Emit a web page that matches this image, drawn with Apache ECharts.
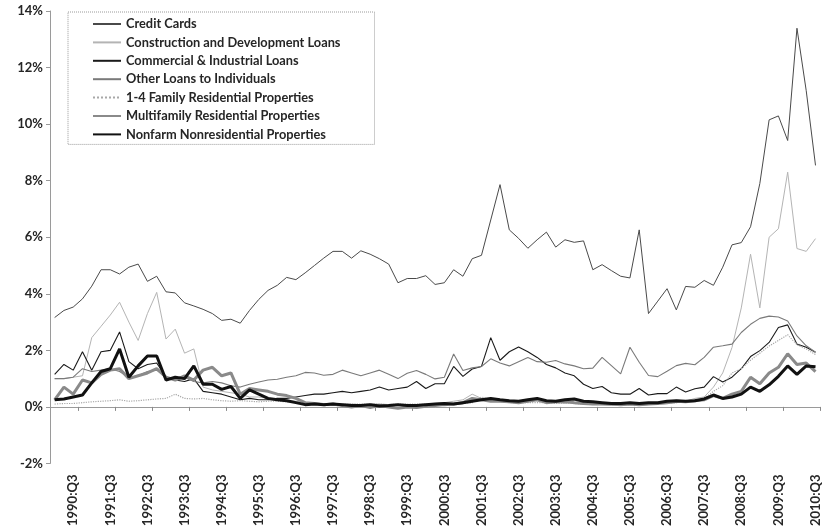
<!DOCTYPE html>
<html>
<head>
<meta charset="utf-8">
<script src="https://cdn.jsdelivr.net/npm/echarts@6/dist/echarts.min.js"></script>
<style>
  html, body { margin: 0; padding: 0; background: #fff; }
  #chart { width: 822px; height: 529px; }
</style>
</head>
<body>
<div id="chart"></div>
<script>
// Quarterly categories, 1990:Q1 through 2010:Q3
const quarters = [];
for (let y = 1990; y <= 2010; y++) {
  for (let q = 1; q <= 4; q++) {
    if (y === 2010 && q > 3) break;
    quarters.push(y + ':Q' + q);
  }
}

const seriesNames = [
  'Credit Cards',
  'Construction and Development Loans',
  'Commercial & Industrial Loans',
  'Other Loans to Individuals',
  '1-4 Family Residential Properties',
  'Multifamily Residential Properties',
  'Nonfarm Nonresidential Properties'
];

// Net charge-off rates, percent
const creditCards = [
  3.16, 3.41, 3.53, 3.82,  4.27, 4.85, 4.85, 4.70,  4.94, 5.05, 4.44, 4.62,
  4.07, 4.03, 3.68, 3.57,  3.45, 3.30, 3.06, 3.10,  2.96, 3.41, 3.80, 4.12,
  4.30, 4.58, 4.50, 4.74,  5.00, 5.26, 5.50, 5.50,  5.26, 5.52, 5.40, 5.24,
  5.05, 4.39, 4.54, 4.54,  4.64, 4.33, 4.39, 4.85,  4.62, 5.24, 5.36, 6.61,
  7.86, 6.26, 5.96, 5.61,  5.91, 6.18, 5.65, 5.91,  5.82, 5.87, 4.85, 5.03,
  4.82, 4.62, 4.56, 6.26,  3.30, 3.74, 4.18, 3.43,  4.26, 4.23, 4.47, 4.30,
  4.94, 5.73, 5.81, 6.37,  7.90, 10.15, 10.29, 9.42,  13.39, 11.18, 8.54
];
const construction = [
  1.00, 1.00, 1.05, 1.10,  2.45, 2.85, 3.25, 3.70,  3.00, 2.35, 3.30, 4.05,
  2.40, 2.75, 1.90, 2.05,  0.70, 0.60, 0.55, 0.50,  0.45, 0.35, 0.35, 0.30,
  0.30, 0.25, 0.20, 0.15,  0.15, 0.12, 0.12, 0.10,  0.10, 0.08, 0.10, 0.10,
  0.08, 0.05, 0.05, 0.08,  0.10, 0.12, 0.15, 0.20,  0.25, 0.45, 0.30, 0.25,
  0.25, 0.20, 0.20, 0.25,  0.22, 0.15, 0.15, 0.12,  0.15, 0.10, 0.08, 0.08,
  0.05, 0.05, 0.08, 0.05,  0.08, 0.10, 0.12, 0.15,  0.20, 0.30, 0.35, 0.70,
  1.20, 2.10, 3.50, 5.40,  3.50, 6.00, 6.30, 8.30,  5.60, 5.50, 5.95
];
const commercialIndustrial = [
  1.15, 1.50, 1.30, 1.95,  1.30, 1.95, 2.00, 2.65,  1.60, 1.35, 1.50, 1.55,
  1.05, 0.95, 0.90, 1.00,  0.55, 0.50, 0.45, 0.35,  0.25, 0.30, 0.25, 0.25,
  0.30, 0.30, 0.35, 0.40,  0.45, 0.45, 0.50, 0.55,  0.50, 0.55, 0.60, 0.70,
  0.60, 0.65, 0.70, 0.90,  0.65, 0.82, 0.82, 1.43,  1.08, 1.34, 1.43, 2.45,
  1.65, 1.95, 2.12, 1.95,  1.75, 1.50, 1.38, 1.20,  1.10, 0.80, 0.65, 0.72,
  0.50, 0.45, 0.45, 0.65,  0.42, 0.47, 0.47, 0.70,  0.53, 0.64, 0.70, 1.07,
  0.88, 1.05, 1.35, 1.78,  1.99, 2.28, 2.81, 2.90,  2.22, 2.11, 1.93
];
const otherIndividuals = [
  1.00, 1.00, 1.05, 1.35,  1.25, 1.30, 1.35, 1.25,  1.05, 1.10, 1.25, 1.30,
  1.05, 1.00, 1.05, 0.90,  0.85, 0.90, 0.85, 0.75,  0.70, 0.80, 0.88, 0.95,
  0.98, 1.05, 1.10, 1.22,  1.20, 1.12, 1.15, 1.30,  1.20, 1.10, 1.20, 1.30,
  1.15, 1.00, 1.19, 1.29,  1.15, 0.99, 1.05, 1.87,  1.29, 1.38, 1.43, 1.70,
  1.55, 1.45, 1.60, 1.75,  1.60, 1.58, 1.64, 1.52,  1.45, 1.35, 1.37, 1.75,
  1.46, 1.17, 2.11, 1.58,  1.11, 1.07, 1.26, 1.46,  1.54, 1.49, 1.75, 2.11,
  2.16, 2.22, 2.63, 2.92,  3.13, 3.21, 3.18, 3.04,  2.51, 2.16, 1.93
];
const oneToFourFamily = [
  0.10, 0.12, 0.12, 0.15,  0.18, 0.20, 0.22, 0.25,  0.20, 0.22, 0.25, 0.28,
  0.30, 0.45, 0.30, 0.28,  0.30, 0.25, 0.22, 0.20,  0.22, 0.20, 0.18, 0.20,
  0.20, 0.18, 0.15, 0.15,  0.12, 0.12, 0.12, 0.10,  0.10, 0.10, 0.10, 0.10,
  0.08, 0.10, 0.10, 0.10,  0.10, 0.10, 0.12, 0.12,  0.12, 0.15, 0.35, 0.25,
  0.20, 0.15, 0.15, 0.15,  0.15, 0.15, 0.12, 0.12,  0.12, 0.10, 0.10, 0.10,
  0.10, 0.08, 0.08, 0.10,  0.10, 0.12, 0.12, 0.15,  0.18, 0.22, 0.30, 0.55,
  0.75, 1.20, 1.35, 1.65,  1.90, 2.15, 2.35, 2.55,  2.20, 2.05, 1.85
];
const multifamily = [
  0.25, 0.70, 0.45, 0.95,  0.85, 1.15, 1.30, 1.35,  1.00, 1.10, 1.20, 1.35,
  1.05, 0.95, 1.10, 0.95,  1.30, 1.40, 1.10, 1.20,  0.45, 0.65, 0.60, 0.55,
  0.45, 0.40, 0.30, 0.15,  0.12, 0.08, 0.10, 0.05,  0.00, 0.05, -0.02, 0.05,
  0.00, -0.05, 0.00, -0.02,  0.02, 0.05, 0.08, 0.10,  0.15, 0.30, 0.25, 0.20,
  0.20, 0.18, 0.15, 0.20,  0.25, 0.15, 0.18, 0.20,  0.15, 0.12, 0.10, 0.10,
  0.10, 0.08, 0.10, 0.08,  0.10, 0.12, 0.15, 0.20,  0.18, 0.22, 0.25, 0.40,
  0.30, 0.45, 0.55, 1.05,  0.82, 1.20, 1.40, 1.88,  1.50, 1.55, 1.25
];
const nonfarmNonres = [
  0.25, 0.28, 0.35, 0.42,  0.85, 1.25, 1.35, 2.05,  1.05, 1.45, 1.80, 1.80,
  0.95, 1.05, 1.00, 1.45,  0.80, 0.80, 0.62, 0.72,  0.30, 0.60, 0.45, 0.30,
  0.25, 0.22, 0.15, 0.08,  0.10, 0.08, 0.10, 0.08,  0.05, 0.05, 0.08, 0.03,
  0.05, 0.08, 0.05, 0.05,  0.08, 0.10, 0.12, 0.10,  0.15, 0.20, 0.25, 0.30,
  0.25, 0.22, 0.20, 0.25,  0.30, 0.22, 0.20, 0.25,  0.28, 0.20, 0.18, 0.15,
  0.12, 0.12, 0.15, 0.12,  0.15, 0.15, 0.20, 0.22,  0.20, 0.22, 0.28, 0.42,
  0.30, 0.35, 0.45, 0.70,  0.55, 0.78, 1.08, 1.45,  1.15, 1.45, 1.42
];

const seriesData = [creditCards, construction, commercialIndustrial, otherIndividuals,
                    oneToFourFamily, multifamily, nonfarmNonres];

const lineStyles = [
  { color: '#4a4a4a', width: 1 },
  { color: '#b4b4b4', width: 1 },
  { color: '#1a1a1a', width: 1.1 },
  { color: '#7a7a7a', width: 1.1 },
  { color: '#a8a8a8', width: 1.2, type: 'dotted' },
  { color: '#8a8a8a', width: 3 },
  { color: '#111111', width: 3 }
];

const FONT = 'Lato, "Liberation Sans", sans-serif';

const chart = echarts.init(document.getElementById('chart'), null, { renderer: 'canvas' });

chart.setOption({
  animation: false,
  backgroundColor: '#ffffff',
  grid: { left: 50, right: 0, top: 11, bottom: 63, containLabel: false },
  legend: {
    orient: 'vertical',
    left: 68,
    top: 12,
    padding: [5, 34, 3, 24],
    itemWidth: 28,
    itemHeight: 14,
    itemGap: 4.4,
    borderColor: '#9a9a9a',
    borderWidth: 1,
    borderType: 'dotted',
    itemStyle: { opacity: 0 },
    textStyle: { fontFamily: FONT, fontSize: 12.8, fontWeight: 'bold', color: '#262626', lineHeight: 14 },
    data: seriesNames
  },
  xAxis: [
    {
      type: 'category',
      data: quarters,
      boundaryGap: true,
      axisLine: { onZero: true, lineStyle: { color: '#9a9a9a', width: 1 } },
      axisTick: { show: true, length: 4, inside: false, interval: (i) => i % 4 === 3, lineStyle: { color: '#8a8a8a' } },
      axisLabel: { show: false },
      splitLine: { show: false }
    },
    {
      type: 'category',
      data: quarters,
      boundaryGap: true,
      position: 'bottom',
      axisLine: { show: false, onZero: false },
      axisTick: { show: false },
      axisLabel: {
        interval: (i) => i % 4 === 2,
        rotate: 90,
        margin: 11,
        fontFamily: FONT,
        fontSize: 13,
        fontWeight: 'bold',
        color: '#262626'
      },
      splitLine: { show: false }
    }
  ],
  yAxis: {
    type: 'value',
    min: -2,
    max: 14,
    interval: 2,
    axisLine: { show: true, lineStyle: { color: '#9a9a9a', width: 1 } },
    axisTick: { show: true, length: 4, lineStyle: { color: '#9a9a9a' } },
    axisLabel: {
      formatter: '{value}%',
      margin: 7,
      fontFamily: FONT,
      fontSize: 13,
      fontWeight: 'bold',
      color: '#262626'
    },
    splitLine: { show: false }
  },
  series: seriesNames.map((name, k) => ({
    name: name,
    type: 'line',
    xAxisIndex: 0,
    data: seriesData[k],
    symbol: 'none',
    smooth: false,
    lineStyle: lineStyles[k],
    itemStyle: { color: lineStyles[k].color },
    emphasis: { disabled: true }
  }))
});
</script>
</body>
</html>
